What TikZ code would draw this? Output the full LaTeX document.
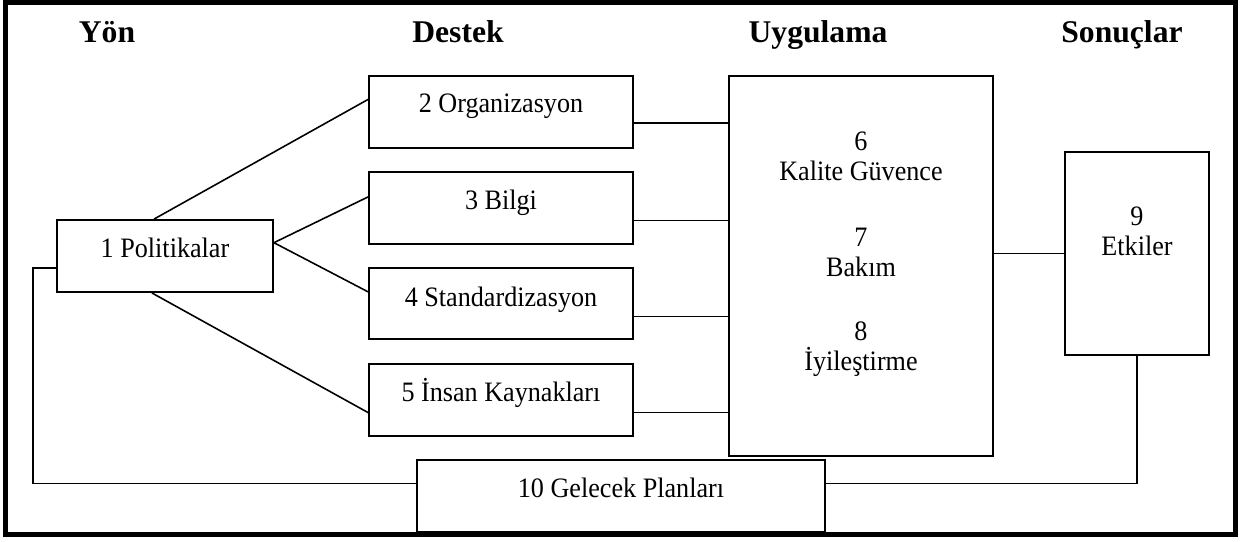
\documentclass[tikz,border=0pt]{standalone}
\usepackage{fontspec}
\setmainfont{Liberation Serif}
\newfontfamily\bodyfont[FakeStretch=0.93]{Liberation Serif}
\usetikzlibrary{calc}
\begin{document}
\begin{tikzpicture}[x=0.02cm,y=-0.02cm,
  box/.style={draw, line width=1.1pt, inner sep=0pt},
  lbl/.style={font=\bodyfont\fontsize{16}{17}\selectfont, inner sep=0pt, align=center},
  bl/.style={lbl, anchor=base},
  hdr/.style={font=\bfseries\fontsize{18}{20}\selectfont, inner sep=0pt, anchor=base},
  conn/.style={line width=0.9pt},
  frame/.style={line width=2.9pt}]
\useasboundingbox (0,0) rectangle (1251,541);
\draw[frame] (5.5,2) rectangle (1235.5,534.5);
% headers
\node[hdr] (h1) at (107,42) {Yön};
\node[hdr] (h2) at (458,42) {Destek};
\node[hdr] (h3) at (818,42) {Uygulama};
\node[hdr] (h4) at (1122,42) {Sonuçlar};
% boxes
\node[box, minimum width=4.32cm, minimum height=1.44cm] (p1) at (165,256) {};
\node[bl] (t1) at (165,257.5) {1 Politikalar};
\node[box, minimum width=5.28cm, minimum height=1.44cm] (b2) at (501,112) {};
\node[bl] (t2) at (501,112.5) {2 Organizasyon};
\node[box, minimum width=5.28cm, minimum height=1.44cm] (b3) at (501,208) {};
\node[bl] (t3) at (501,209.5) {3 Bilgi};
\node[box, minimum width=5.28cm, minimum height=1.42cm] (b4) at (501,303.5) {};
\node[bl] (t4) at (501,306.5) {4 Standardizasyon};
\node[box, minimum width=5.28cm, minimum height=1.44cm] (b5) at (501,400) {};
\node[bl] (t5) at (501,401.5) {5 İnsan Kaynakları};
\node[box, minimum width=5.28cm, minimum height=7.6cm] (uyg) at (861,266) {};
\node[lbl] (t6) at (861,156) {6\\Kalite Güvence};
\node[lbl] (t7) at (861,252) {7\\Bakım};
\node[lbl] (t8) at (861,349) {8\\İyileştirme};
\node[box, minimum width=2.89cm, minimum height=4.06cm] (p9) at (1137,253.5) {};
\node[lbl] (t9) at (1137,231) {9\\Etkiler};
\node[box, minimum width=8.16cm, minimum height=1.44cm] (g10) at (621,496) {};
\node[bl] (t10) at (621,497.5) {10 Gelecek Planları};
% connectors from Politikalar
\draw[conn] ($(p1.north west)!0.45!(p1.north east)$) -- ($(b2.north west)!0.33!(b2.south west)$);
\draw[conn] ($(p1.north east)!0.32!(p1.south east)$) -- ($(b3.north west)!0.35!(b3.south west)$);
\draw[conn] ($(p1.north east)!0.32!(p1.south east)$) -- ($(b4.north west)!0.34!(b4.south west)$);
\draw[conn] ($(p1.south west)!0.44!(p1.south east)$) -- ($(b5.north west)!0.67!(b5.south west)$);
% connectors to Uygulama
\draw[conn] ($(b2.north east)!0.65!(b2.south east)$) coordinate (c2) -- (c2 -| uyg.west);
\draw[conn] ($(b3.north east)!0.67!(b3.south east)$) coordinate (c3) -- (c3 -| uyg.west);
\draw[conn] ($(b4.north east)!0.68!(b4.south east)$) coordinate (c4) -- (c4 -| uyg.west);
\draw[conn] ($(b5.north east)!0.67!(b5.south east)$) coordinate (c5) -- (c5 -| uyg.west);
% Uygulama to Etkiler
\draw[conn] ($(p9.north west)!0.5!(p9.south west)$) coordinate (c9) -- (c9 -| uyg.east);
% feedback
\draw[conn] (p9.south) |- ($(g10.north east)!0.33!(g10.south east)$);
\coordinate (fb) at (33,268);
\draw[conn] ($(g10.north west)!0.33!(g10.south west)$) -| (fb) -- (fb -| p1.west);
\end{tikzpicture}
\end{document}
